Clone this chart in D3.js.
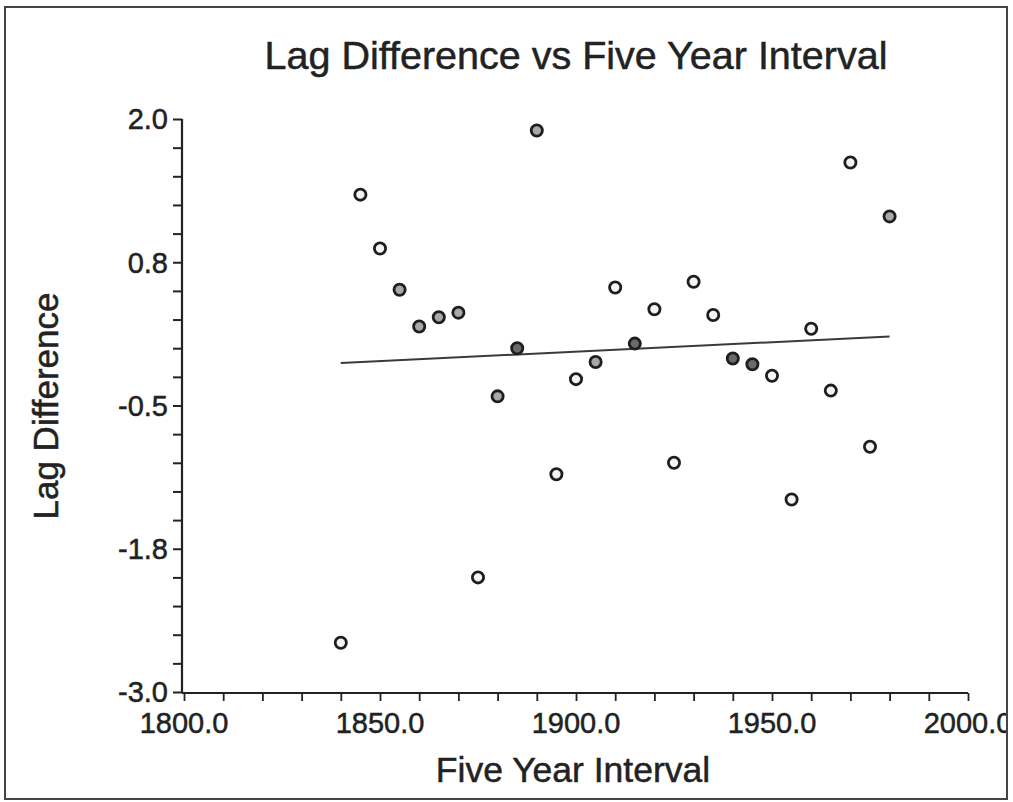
<!DOCTYPE html>
<html>
<head>
<meta charset="utf-8">
<script src="https://cdn.jsdelivr.net/npm/d3@7"></script>
<style>
  html,body{margin:0;padding:0;background:#fff;}
  svg{display:block;font-family:"Liberation Sans",Arial,sans-serif;}
  svg text{stroke:#222;stroke-width:0.5px;}
</style>
</head>
<body>
<svg id="chart" width="1013" height="802"></svg>
<script>
// ---- data ----
const years = [1840,1845,1850,1855,1860,1865,1870,1875,1880,1885,1890,1895,1900,1905,1910,
               1915,1920,1925,1930,1935,1940,1945,1950,1955,1960,1965,1970,1975,1980];
const lagDiff = [-2.57,1.34,0.87,0.51,0.19,0.27,0.31,-2.00,-0.42,0.00,1.90,-1.10,-0.27,-0.12,0.53,
                 0.04,0.34,-1.00,0.58,0.29,-0.09,-0.14,-0.24,-1.32,0.17,-0.37,1.62,-0.86,1.15];
const xTickValues = [1800,1850,1900,1950,2000];
const xTickLabels = ['1800.0','1850.0','1900.0','1950.0','2000.0'];
const yTickValues = [-3.0,-1.75,-0.5,0.75,2.0];
const yTickLabels = ['-3.0','-1.8','-0.5','0.8','2.0'];

// points that came out shaded in the print (scan look)
const greyFill = new Set([1855,1860,1865,1870,1880,1890,1905,1980]);
const darkFill = new Set([1885,1915,1940,1945]);

(function(){
  const svg = d3.select('#chart');
  const ink = '#222';

  // frame
  svg.append('rect').attr('x',5).attr('y',7).attr('width',1002).attr('height',792)
    .attr('fill','#fff').attr('stroke','#444').attr('stroke-width',2);

  const x = d3.scaleLinear().domain([1800,2000]).range([184,968]);
  const y = d3.scaleLinear().domain([-3,2]).range([692,119]);

  // title + axis titles
  svg.append('text').attr('x',576).attr('y',69).attr('text-anchor','middle')
    .attr('font-size',39.5).attr('fill',ink).text('Lag Difference vs Five Year Interval');
  svg.append('text').attr('x',573).attr('y',782).attr('text-anchor','middle')
    .attr('font-size',35.5).attr('fill',ink).text('Five Year Interval');
  svg.append('text').attr('transform','translate(58,406) rotate(-90)').attr('text-anchor','middle')
    .attr('font-size',35).attr('fill',ink).text('Lag Difference');

  // y axis: majors + minors
  const yAxis = svg.append('g').attr('transform','translate(182,0)')
    .call(d3.axisLeft(y).tickValues(d3.range(-3,2.001,0.25)).tickSize(9).tickFormat(''));
  yAxis.select('.domain').attr('stroke',ink).attr('stroke-width',2.2).attr('d','M0,'+y(-3)+'V'+y(2));
  yAxis.selectAll('.tick line').attr('stroke',ink).attr('stroke-width',2);
  svg.append('g').selectAll('text').data(yTickValues).join('text')
    .attr('x',168).attr('y',d=>y(d)).attr('dy','0.36em').attr('text-anchor','end')
    .attr('font-size',29).attr('fill',ink).text((d,i)=>yTickLabels[i]);

  // x axis
  const xAxis = svg.append('g').attr('transform','translate(0,693)')
    .call(d3.axisBottom(x).tickValues(d3.range(1800,2000.1,10)).tickSize(8).tickFormat(''));
  xAxis.select('.domain').attr('stroke',ink).attr('stroke-width',2.2).attr('d','M'+(x(1800)-2)+',0H'+x(2000));
  xAxis.selectAll('.tick line').attr('stroke',ink).attr('stroke-width',1.8);
  svg.append('g').selectAll('text').data(xTickValues).join('text')
    .attr('x',d=>x(d)).attr('y',733).attr('text-anchor','middle')
    .attr('font-size',29).attr('fill',ink).text((d,i)=>xTickLabels[i]);

  // least-squares fit line over the data range
  const mx = d3.mean(years), my = d3.mean(lagDiff);
  const slope = d3.sum(years,(v,i)=>(v-mx)*(lagDiff[i]-my)) / d3.sum(years,v=>(v-mx)*(v-mx));
  const fit = v => my + slope*(v-mx);
  const x0 = d3.min(years), x1 = d3.max(years);
  svg.append('line').attr('x1',x(x0)).attr('y1',y(fit(x0))).attr('x2',x(x1)).attr('y2',y(fit(x1)))
    .attr('stroke','#3a3a3a').attr('stroke-width',2);

  // points
  svg.append('g').selectAll('circle').data(years).join('circle')
    .attr('cx',d=>x(d)).attr('cy',(d,i)=>y(lagDiff[i])).attr('r',5.6)
    .attr('fill',d=>darkFill.has(d)?'#6a6a6a':(greyFill.has(d)?'#a8a8a8':'#f4f4f4'))
    .attr('stroke','#1e1e1e').attr('stroke-width',2.8);

  // right border drawn last so it clips over the "2000.0" label like the print
  svg.append('rect').attr('x',1008).attr('y',0).attr('width',5).attr('height',802).attr('fill','#fff');
  svg.append('line').attr('x1',1007).attr('x2',1007).attr('y1',7).attr('y2',800)
    .attr('stroke','#444').attr('stroke-width',2);
})();
</script>
</body>
</html>
